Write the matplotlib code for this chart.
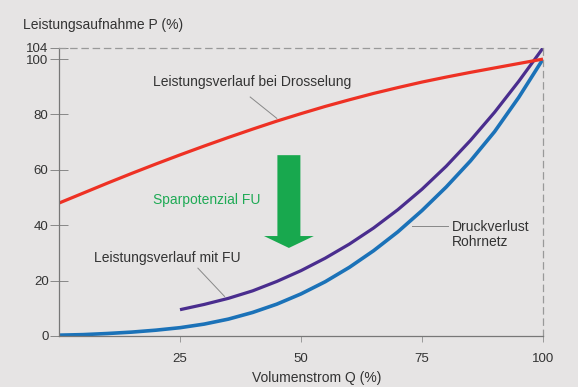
import numpy as np
import matplotlib.pyplot as plt
from matplotlib.patches import FancyArrow

plt.rcParams['font.family'] = ['Liberation Sans', 'DejaVu Sans']

# --- Data (Volumenstrom Q in %, Leistung P in %) ---
q_drossel = [0, 5, 10, 15, 20, 25, 30, 35, 40, 45, 50, 55, 60, 65, 70, 75, 80, 85, 90, 95, 100]
p_drossel = [48, 51.6, 55.2, 58.7, 62.1, 65.4, 68.6, 71.7, 74.7, 77.6, 80.3, 82.9, 85.3,
             87.6, 89.7, 91.7, 93.5, 95.2, 96.8, 98.4, 100]

q_fu = [25, 30, 35, 40, 45, 50, 55, 60, 65, 70, 75, 80, 85, 90, 95, 100]
p_fu = [9.5, 11.4, 13.6, 16.3, 19.7, 23.6, 28.1, 33.2, 39.0, 45.6, 53.0, 61.3, 70.6,
        80.8, 92.0, 104]

q_rohr = [0, 5, 10, 15, 20, 25, 30, 35, 40, 45, 50, 55, 60, 65, 70, 75, 80, 85, 90, 95, 100]
p_rohr = [0.3, 0.5, 0.9, 1.4, 2.1, 3.0, 4.3, 6.1, 8.5, 11.5, 15.2, 19.6, 24.8, 30.8,
          37.6, 45.3, 53.8, 63.2, 73.8, 86.2, 100]

x_ticks = [25, 50, 75, 100]
y_ticks = [0, 20, 40, 60, 80, 100, 104]

bg = '#e6e4e4'
txt = '#333333'
fs = 10

fig = plt.figure(figsize=(5.78, 3.87), dpi=100, facecolor=bg)
ax = fig.add_axes([59 / 578, 51 / 387, 484 / 578, 288 / 387], facecolor=bg)

ax.plot(q_rohr, p_rohr, color='#1b72b8', lw=2.6, solid_capstyle='butt')
ax.plot(q_fu, p_fu, color='#4a2d8e', lw=2.3, solid_capstyle='butt')
ax.plot(q_drossel, p_drossel, color='#ee3124', lw=2.3, solid_capstyle='butt')

ax.set_xlim(0, 100)
ax.set_ylim(0, 104)

# spines: solid left/bottom, dashed frame top/right
for s in ['left', 'bottom']:
    ax.spines[s].set_color('#777777')
    ax.spines[s].set_linewidth(0.9)
for s in ['top', 'right']:
    ax.spines[s].set_color('#999999')
    ax.spines[s].set_linewidth(0.9)
    ax.spines[s].set_linestyle((0, (5, 4)))

ax.set_xticks(x_ticks)
ax.set_xticklabels([str(v) for v in x_ticks])
ax.set_yticks(y_ticks)
ax.set_yticklabels([str(v) for v in y_ticks])
ax.tick_params(axis='y', direction='inout', length=13, width=0.7, color='#888888',
               labelsize=9.5, labelcolor=txt, pad=1)
ax.tick_params(axis='x', direction='out', length=4, width=0.7, color='#999999',
               labelsize=9.5, labelcolor=txt, pad=8)

# axis titles
fig.text(23 / 578, 1 - 25 / 387, 'Leistungsaufnahme P (%)', fontsize=fs, color=txt,
         ha='left', va='center')
fig.text(317 / 578, 1 - 378 / 387, 'Volumenstrom Q (%)', fontsize=fs, color=txt,
         ha='center', va='center')

# curve labels with connector lines
ax.text(39.8, 91.7, 'Leistungsverlauf bei Drosselung', fontsize=fs, color=txt,
        ha='center', va='center')
ax.plot([39.5, 45], [86.3, 78.6], color='#888888', lw=0.7)

ax.text(22.4, 28.2, 'Leistungsverlauf mit FU', fontsize=fs, color=txt,
        ha='center', va='center')
ax.plot([28.7, 34.2], [24.5, 14.3], color='#888888', lw=0.7)

ax.text(81.2, 36.6, 'Druckverlust\nRohrnetz', fontsize=fs, color=txt,
        ha='left', va='center', linespacing=1.15)
ax.plot([73, 80.4], [39.6, 39.6], color='#888888', lw=0.7)

# savings arrow
ax.text(30.6, 49.1, 'Sparpotenzial FU', fontsize=fs, color='#1faa55',
        ha='center', va='center')
ax.add_patch(FancyArrow(47.5, 65.3, 0, -33.5, width=4.75, head_width=10.3,
                        head_length=4.3, length_includes_head=True,
                        color='#18a84e', lw=0))

fig.savefig('out.png', dpi=100, facecolor=bg)
